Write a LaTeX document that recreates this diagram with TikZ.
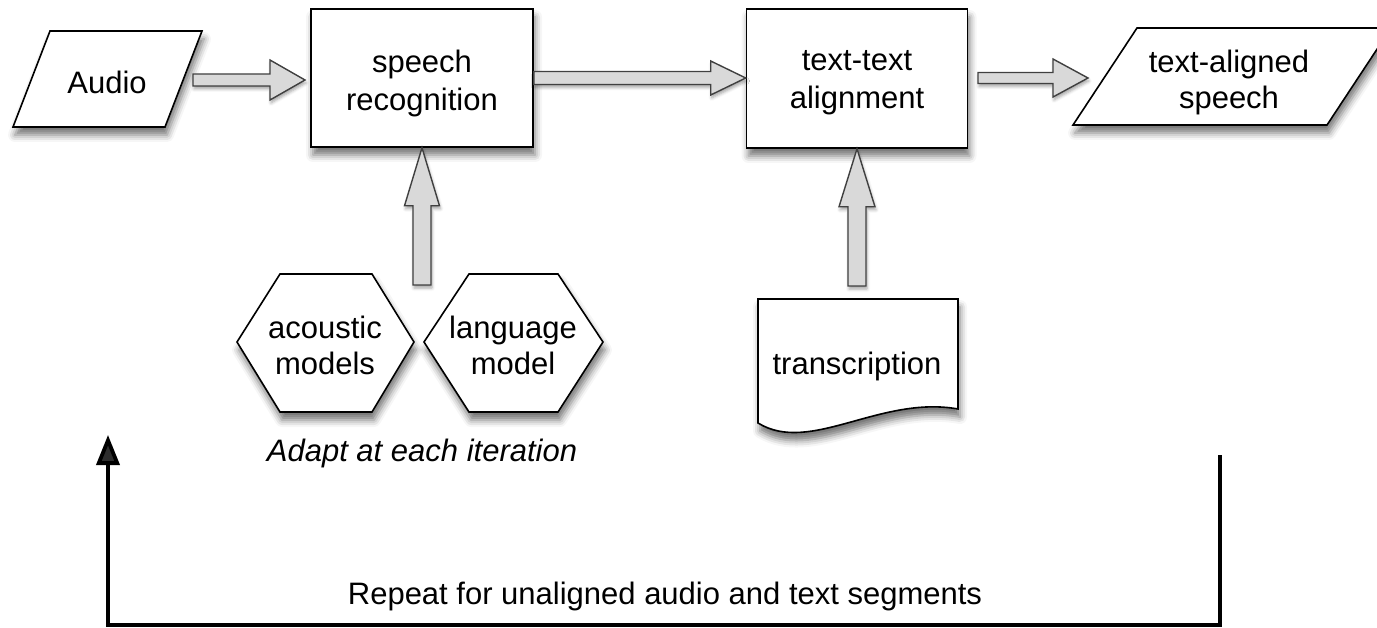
\documentclass[tikz,border=0pt]{standalone}
\usepackage{fontspec}
\setmainfont{Liberation Sans}
\usetikzlibrary{shadows.blur,arrows.meta,calc}
\newcommand{\blkarrowh}[5]{%
  \draw[barrow] let \p1=(#1), \p2=(#2) in
    (\x1,\y1+#3pt) -- (\x2-#5pt,\y1+#3pt) -- (\x2-#5pt,\y1+#4pt) -- (\x2,\y1)
    -- (\x2-#5pt,\y1-#4pt) -- (\x2-#5pt,\y1-#3pt) -- (\x1,\y1-#3pt) -- cycle;}
\newcommand{\blkarrowv}[5]{%
  \draw[barrow] let \p1=(#1), \p2=(#2) in
    (\x1-#3pt,\y1) -- (\x1-#3pt,\y2-#5pt) -- (\x1-#4pt,\y2-#5pt) -- (\x1,\y2)
    -- (\x1+#4pt,\y2-#5pt) -- (\x1+#3pt,\y2-#5pt) -- (\x1+#3pt,\y1) -- cycle;}
\begin{document}
\begin{tikzpicture}[x=1pt,y=1pt,
  shp/.style={draw=black, line width=1.6pt, fill=white, line join=miter,
    blur shadow={shadow xshift=2pt, shadow yshift=-8pt, shadow blur radius=7pt, shadow opacity=55}},
  lbl/.style={align=center, font=\fontsize{31}{36}\selectfont, inner sep=0pt},
  lblwide/.style={align=center, font=\fontsize{31}{38}\selectfont, inner sep=0pt},
  barrow/.style={draw=black!75, line width=1.4pt, fill=black!15, line join=miter,
    blur shadow={shadow xshift=1pt, shadow yshift=-3pt, shadow blur radius=3pt, shadow opacity=35}},
  loopline/.style={line width=3.8pt, line join=miter, -{Triangle[length=30pt,width=23pt]}},
]
\useasboundingbox (0,0) rectangle (1377,-628);
\clip (0,0) rectangle (1377,-628);
% Audio
\draw[shp] (50,-31) -- (202,-31) -- (165,-127) -- (13,-127) -- cycle;
\node[lbl] (audio) at (107,-82) {Audio};
% speech recognition
\node[shp, minimum width=222pt, minimum height=138pt] (sr) at (422,-78) {};
\node[lblwide] (srtext) at (422,-83) {speech\\recognition};
% text-text alignment
\node[shp, minimum width=221pt, minimum height=139pt] (tt) at (857,-78.5) {};
\node[lblwide] (tttext) at (857,-83) {text-text\\alignment};
% text-aligned speech
\draw[shp] (1137,-28) -- (1391,-28) -- (1327,-125) -- (1073,-125) -- cycle;
\node[lbl] (tas) at (1229,-82) {text-aligned\\speech};
% hexagons
\draw[shp] (237,-342) -- (280,-274) -- (372,-274) -- (414,-342) -- (372,-412) -- (280,-412) -- cycle;
\node[lbl] (am) at (325,-345) {acoustic\\models};
\draw[shp] (424,-342) -- (469,-274) -- (558,-274) -- (603,-342) -- (558,-412) -- (469,-412) -- cycle;
\node[lbl] (lm) at (513,-345) {language\\model};
% transcription
\draw[shp] (758,-299) -- (958,-299) -- (958,-409) .. controls (880,-395) and (810,-455) .. (758,-423) -- cycle;
\node[lbl] (tr) at (857,-366) {transcription};
% labels
\node[lbl, font=\fontsize{31}{36}\selectfont\itshape] (adapt) at (422,-453) {Adapt at each iteration};
\node[lbl] (rep) at (665,-596) {Repeat for unaligned audio and text segments};
% block arrows
\coordinate (audioout) at (193,-80);
\coordinate (srin) at (305,-80);
\blkarrowh{audioout}{srin}{6}{20}{35}
\blkarrowh{sr.east}{tt.west}{6.5}{17}{35}
\coordinate (ttout) at (978,-78);
\coordinate (tasin) at (1088,-78);
\blkarrowh{ttout}{tasin}{5.5}{19}{35}
\coordinate (modelsout) at (422,-285);
\blkarrowv{modelsout}{sr.south}{9}{17.5}{58}
\coordinate (trout) at (857,-286);
\blkarrowv{trout}{tt.south}{9}{18}{58}
% loop
\coordinate (loopstart) at (1220,-455);
\coordinate (loopend) at (108,-435);
\draw[loopline] (loopstart) -- (1220,-625) -- (108,-625) -- (loopend);
\end{tikzpicture}
\end{document}
